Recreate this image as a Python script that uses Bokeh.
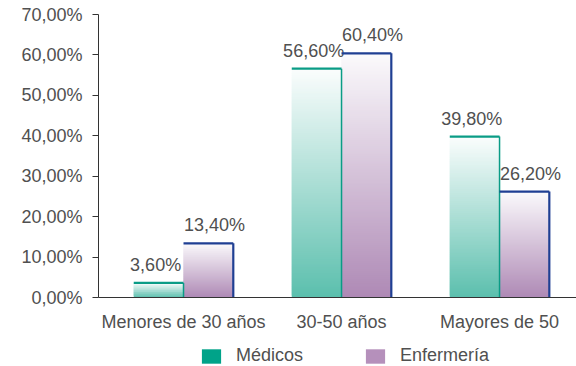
import numpy as np
from bokeh.plotting import figure
from bokeh.layouts import column
from bokeh.models import (ColumnDataSource, Range1d, FixedTicker, Legend, LegendItem)
from bokeh.core.properties import value
from bokeh.embed import file_html
from bokeh.resources import INLINE

# Data
categories = ["Menores de 30 años", "30-50 años", "Mayores de 50"]
medicos = [3.6, 56.6, 39.8]
enfermeria = [13.4, 60.4, 26.2]
y_ticks = [0, 10, 20, 30, 40, 50, 60, 70]

FONT = "Liberation Sans"
TXT = "#505050"

def pct(v):
    return f"{v:.2f}".replace(".", ",") + "%"

def lerp_hex(c0, c1, t):
    a = np.array([int(c0[i:i + 2], 16) for i in (1, 3, 5)], float)
    b = np.array([int(c1[i:i + 2], 16) for i in (1, 3, 5)], float)
    c = a + (b - a) * t
    return "#%02x%02x%02x" % tuple(int(round(x)) for x in c)

p = figure(width=576, height=338, output_backend="svg", toolbar_location=None,
           x_range=Range1d(-0.038, 2.987), y_range=Range1d(0, 70),
           min_border_left=98, min_border_right=0, min_border_top=14,
           min_border_bottom=41)
p.outline_line_color = None
p.background_fill_color = "white"
p.border_fill_color = "white"
p.grid.visible = False

centers = np.arange(len(categories)) + 0.5
bw = 0.315
STEP = 0.5  # height of one gradient slice, in percent units

series = [
    (medicos, centers - bw, centers, "#5bbfad", "#fbfdfd", "#0a9c86", 1.5, -3),
    (enfermeria, centers, centers + bw, "#ae89b5", "#fbfafc", "#1f3f93", 2.2, 6),
]

# Gradient-filled bars drawn as stacked horizontal slices
for vals, lefts, rights, c_bot, c_top, edge, edge_w, dx in series:
    L, R, B, T, C = [], [], [], [], []
    for v, l, r in zip(vals, lefts, rights):
        n = max(1, int(np.ceil(v / STEP)))
        for k in range(n):
            L.append(l)
            R.append(r)
            B.append(v * k / n)
            T.append(min(v, v * (k + 2) / n))
            C.append(lerp_hex(c_bot, c_top, (k + 0.5) / n))
    src = ColumnDataSource(dict(left=L, right=R, bottom=B, top=T, color=C))
    p.quad(source=src, left="left", right="right", bottom="bottom", top="top",
           fill_color="color", line_color=None)

for vals, lefts, rights, c_bot, c_top, edge, edge_w, dx in series:
    p.segment(x0=lefts, y0=vals, x1=rights, y1=vals, line_color=edge, line_width=2.2)
    p.segment(x0=rights, y0=[0] * len(vals), x1=rights, y1=vals,
              line_color=edge, line_width=edge_w)
    mids = (np.array(lefts) + np.array(rights)) / 2
    p.text(x=mids, y=vals, text=[pct(v) for v in vals], text_align="center",
           text_baseline="bottom", x_offset=dx, y_offset=-8,
           text_font=value(FONT), text_font_size="18px", text_color=TXT)

# Axes
p.yaxis.ticker = FixedTicker(ticks=y_ticks)
p.yaxis.major_label_overrides = {t: pct(t) for t in y_ticks}
p.yaxis.minor_tick_line_color = None
p.yaxis.major_tick_out = 6
p.yaxis.major_tick_in = 0
p.yaxis.major_label_standoff = 10
p.yaxis.axis_line_color = "#333333"
p.yaxis.major_tick_line_color = "#333333"

p.xaxis.ticker = FixedTicker(ticks=list(centers))
p.xaxis.major_label_overrides = {float(c): n for c, n in zip(centers, categories)}
p.xaxis.major_tick_line_color = None
p.xaxis.minor_tick_line_color = None
p.xaxis.major_label_standoff = 8
p.xaxis.axis_line_color = "#333333"

for ax in (p.xaxis, p.yaxis):
    ax.major_label_text_font = FONT
    ax.major_label_text_font_size = "18px"
    ax.major_label_text_color = TXT

# Legend strip under the chart, with solid swatches
lg = figure(width=576, height=28, output_backend="svg", toolbar_location=None,
            x_range=Range1d(0, 1), y_range=Range1d(0, 1),
            x_axis_location=None, y_axis_location=None,
            min_border=0)
lg.outline_line_color = None
lg.grid.visible = False
blank = dict(left=[np.nan], right=[np.nan], bottom=[np.nan], top=[np.nan])
r_med = lg.quad(source=ColumnDataSource(blank), left="left", right="right",
                bottom="bottom", top="top", fill_color="#00a389", line_color=None)
r_enf = lg.quad(source=ColumnDataSource(dict(blank)), left="left", right="right",
                bottom="bottom", top="top", fill_color="#b590bb", line_color=None)
legend = Legend(items=[LegendItem(label="Médicos", renderers=[r_med]),
                       LegendItem(label="Enfermería", renderers=[r_enf])],
                orientation="horizontal", location=(101, 0))
legend.glyph_width = 24
legend.glyph_height = 18
legend.label_standoff = 13
legend.spacing = 60
legend.border_line_color = None
legend.background_fill_alpha = 0
legend.label_text_font = FONT
legend.label_text_font_size = "18px"
legend.label_text_color = TXT
legend.label_height = 18
legend.padding = 2
legend.margin = 0
lg.add_layout(legend, "center")

layout = column(p, lg, spacing=0)
open("out.html", "w").write(file_html(layout, INLINE))
